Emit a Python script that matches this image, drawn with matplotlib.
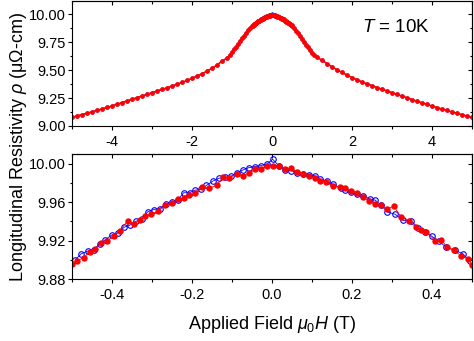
import numpy as np
import matplotlib
matplotlib.use("Agg")
import matplotlib.pyplot as plt
from matplotlib.ticker import MultipleLocator, FormatStrFormatter

plt.rcParams['font.family'] = ['Liberation Sans', 'DejaVu Sans']
plt.rcParams['mathtext.fontset'] = 'custom'
plt.rcParams['mathtext.rm'] = 'Liberation Sans'
plt.rcParams['mathtext.it'] = 'Liberation Sans:italic'
plt.rcParams['axes.unicode_minus'] = False

# low-field sweep (bottom panel, also centre of top panel)
red_H = [-0.5, -0.4875, -0.471, -0.456, -0.442, -0.427, -0.4125, -0.396, -0.381, -0.361,
         -0.346, -0.331, -0.317, -0.302, -0.286, -0.267, -0.25, -0.236, -0.221, -0.207,
         -0.192, -0.175, -0.158, -0.1375, -0.1225, -0.108, -0.0875, -0.0725, -0.058, -0.0417,
         -0.0275, -0.0125, 0.0017, 0.0167, 0.033, 0.0475, 0.0625, 0.0775, 0.0917, 0.1067,
         0.121, 0.136, 0.1525, 0.169, 0.183, 0.198, 0.213, 0.2275, 0.2425, 0.257,
         0.272, 0.288, 0.304, 0.323, 0.342, 0.361, 0.373, 0.386, 0.408, 0.423,
         0.438, 0.455, 0.473, 0.49, 0.5]
red_rho = [9.8957, 9.8992, 9.902, 9.9086, 9.9114, 9.9177, 9.920, 9.9243, 9.930, 9.9404,
           9.9369, 9.941, 9.9452, 9.9473, 9.9505, 9.9567, 9.9592, 9.9627, 9.9644, 9.9672,
           9.969, 9.976, 9.9742, 9.9777, 9.9864, 9.985, 9.9892, 9.9874, 9.9899, 9.994,
           9.9948, 9.9976, 9.9979, 9.9979, 9.9948, 9.9951, 9.9916, 9.9892, 9.9871, 9.9847,
           9.9822, 9.9805, 9.9766, 9.9759, 9.9742, 9.9714, 9.969, 9.9655, 9.961, 9.9578,
           9.9567, 9.9526, 9.9557, 9.9445, 9.940, 9.934, 9.9313, 9.9288, 9.920, 9.9208,
           9.9131, 9.9097, 9.904, 9.901, 9.895]

blue_H = [-0.492, -0.477, -0.461, -0.446, -0.431, -0.417, -0.4, -0.386, -0.369, -0.356,
          -0.34, -0.325, -0.311, -0.296, -0.281, -0.264, -0.25, -0.236, -0.221, -0.206,
          -0.192, -0.177, -0.164, -0.1475, -0.133, -0.117, -0.1017, -0.0875, -0.0725, -0.058,
          -0.0417, -0.0275, -0.0125, 0.0017, 0.0167, 0.0317, 0.0475, 0.0625, 0.0775, 0.0917,
          0.1067, 0.121, 0.1375, 0.1525, 0.172, 0.183, 0.198, 0.213, 0.2275, 0.244,
          0.258, 0.273, 0.288, 0.308, 0.3275, 0.348, 0.365, 0.383, 0.4, 0.417,
          0.436, 0.458, 0.4775, 0.494]
blue_rho = [9.900, 9.9062, 9.909, 9.9104, 9.9166, 9.9208, 9.926, 9.928, 9.934, 9.9358,
            9.940, 9.9428, 9.9498, 9.9522, 9.9533, 9.9578, 9.960, 9.962, 9.9697, 9.9697,
            9.9724, 9.9731, 9.9773, 9.9819, 9.9847, 9.9857, 9.9871, 9.9906, 9.9934, 9.9958,
            9.9969, 9.9979, 9.9997, 10.0045, 9.9979, 9.9934, 9.9927, 9.9906, 9.9888, 9.9881,
            9.9874, 9.9836, 9.9819, 9.9784, 9.9742, 9.9724, 9.970, 9.9679, 9.9662, 9.9634,
            9.962, 9.9567, 9.9498, 9.9473, 9.941, 9.9404, 9.9334, 9.9288, 9.9243, 9.9191,
            9.9131, 9.9097, 9.9062, 9.8985]

# intermediate field (|H| from 0.55 to 1.05 T)
mid_H = [0.55, 0.6, 0.65, 0.7, 0.75, 0.8, 0.85, 0.9, 0.95, 1.0, 1.05]
mid_rho_neg = [9.877, 9.857, 9.835, 9.811, 9.786, 9.761, 9.736, 9.711, 9.687, 9.664, 9.640]
mid_rho_pos = [9.876, 9.855, 9.832, 9.806, 9.779, 9.753, 9.729, 9.705, 9.681, 9.657, 9.634]

# high field (|H| from 1.125 to 5 T)
high_H = [1.125, 1.25, 1.375, 1.5, 1.625, 1.75, 1.875, 2.0,
          2.125, 2.25, 2.375, 2.5, 2.625, 2.75, 2.875, 3.0,
          3.125, 3.25, 3.375, 3.5, 3.625, 3.75, 3.875, 4.0,
          4.125, 4.25, 4.375, 4.5, 4.625, 4.75, 4.875, 5.0]
high_rho_neg = [9.610, 9.582, 9.547, 9.517, 9.492, 9.468, 9.447, 9.427,
                9.408, 9.391, 9.374, 9.358, 9.343, 9.328, 9.314, 9.300,
                9.285, 9.270, 9.255, 9.240, 9.225, 9.210, 9.195, 9.180,
                9.166, 9.153, 9.140, 9.127, 9.115, 9.102, 9.090, 9.078]
high_rho_pos = [9.617, 9.588, 9.560, 9.530, 9.504, 9.480, 9.456, 9.434,
                9.414, 9.395, 9.378, 9.361, 9.345, 9.329, 9.314, 9.299,
                9.284, 9.268, 9.252, 9.237, 9.223, 9.208, 9.193, 9.179,
                9.165, 9.152, 9.139, 9.126, 9.114, 9.101, 9.089, 9.077]

# full sweep for the top panel
neg_H = [-h for h in high_H[::-1]] + [-h for h in mid_H[::-1]]
neg_rho = high_rho_neg[::-1] + mid_rho_neg[::-1]
pos_H = mid_H + high_H
pos_rho = mid_rho_pos + high_rho_pos

full_red_H = neg_H + red_H + pos_H
full_red_rho = neg_rho + red_rho + pos_rho
full_blue_H = neg_H + blue_H + pos_H
full_blue_rho = neg_rho + blue_rho + pos_rho

RED = '#ff0000'
BLUE = '#0000ff'

fig = plt.figure(figsize=(4.74, 3.41), dpi=100)
ax1 = fig.add_axes([0.152, 0.6305, 0.8438, 0.3665])
ax2 = fig.add_axes([0.152, 0.1818, 0.8438, 0.3666])


def style(ax, xmaj, xmin, ymaj, ymin, xfmt, yfmt):
    for s in ax.spines.values():
        s.set_linewidth(0.8)
    ax.xaxis.set_major_locator(MultipleLocator(xmaj))
    ax.xaxis.set_minor_locator(MultipleLocator(xmin))
    ax.yaxis.set_major_locator(MultipleLocator(ymaj))
    ax.yaxis.set_minor_locator(MultipleLocator(ymin))
    ax.xaxis.set_major_formatter(FormatStrFormatter(xfmt))
    ax.yaxis.set_major_formatter(FormatStrFormatter(yfmt))
    ax.tick_params(which='both', direction='out', width=0.8, labelsize=10.5)
    ax.tick_params(which='major', length=3.2)
    ax.tick_params(which='minor', length=1.8)
    ax.tick_params(axis='y', pad=1.5)
    ax.tick_params(axis='x', pad=3)
    # mirrored ticks on top / right, pointing inward
    sx = ax.secondary_xaxis('top')
    sx.xaxis.set_major_locator(MultipleLocator(xmaj))
    sx.xaxis.set_minor_locator(MultipleLocator(xmin))
    sx.tick_params(which='both', direction='in', width=0.8, labeltop=False)
    sx.tick_params(which='major', length=3.2)
    sx.tick_params(which='minor', length=1.8)
    sy = ax.secondary_yaxis('right')
    sy.yaxis.set_major_locator(MultipleLocator(ymaj))
    sy.yaxis.set_minor_locator(MultipleLocator(ymin))
    sy.tick_params(which='both', direction='in', width=0.8, labelright=False)
    sy.tick_params(which='major', length=3.2)
    sy.tick_params(which='minor', length=1.8)


# top panel
ax1.plot(full_blue_H, full_blue_rho, '-o', color=BLUE, lw=0.7, ms=2.4,
         mfc='none', mec=BLUE, mew=0.4)
ax1.plot(full_red_H, full_red_rho, '-o', color=RED, lw=1.1, ms=3.4,
         mfc=RED, mec=RED, mew=0)
ax1.set_xlim(-5, 5)
ax1.set_ylim(9.0, 10.12)
style(ax1, 2, 1, 0.25, 0.125, '%d', '%.2f')
ax1.text(3.1, 9.88, r'$\mathit{T}$ = 10K', fontsize=13.5, ha='center', va='center')

# bottom panel
ax2.plot(blue_H, blue_rho, '-o', color=BLUE, lw=0.6, ms=4.0,
         mfc='none', mec=BLUE, mew=0.8)
ax2.plot(red_H, red_rho, '-o', color=RED, lw=0.6, ms=4.6,
         mfc=RED, mec=RED, mew=0)
ax2.set_xlim(-0.5, 0.5)
ax2.set_ylim(9.88, 10.01)
style(ax2, 0.2, 0.1, 0.04, 0.02, '%.1f', '%.2f')

fig.text(0.040, 0.569, r'Longitudinal Resistivity $\mathit{\rho}$ (μΩ-cm)',
         rotation=90, ha='center', va='center', fontsize=13)
fig.text(0.574, 0.047, r'Applied Field $\mathit{\mu_0H}$ (T)',
         ha='center', va='center', fontsize=13)

fig.savefig('out.png', dpi=100)
